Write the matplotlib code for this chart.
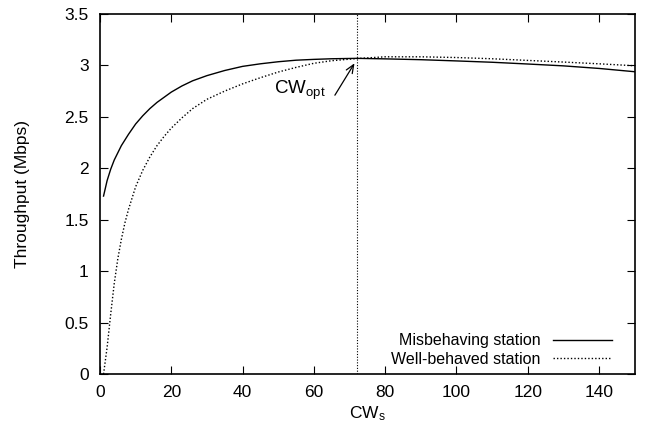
import matplotlib
matplotlib.use("Agg")
import matplotlib.pyplot as plt

plt.rcParams['font.family'] = ['Liberation Sans', 'DejaVu Sans']
plt.rcParams['mathtext.fontset'] = 'custom'
plt.rcParams['mathtext.rm'] = 'Liberation Sans'
plt.rcParams['mathtext.it'] = 'Liberation Sans'

# Misbehaving station throughput vs CW_s
mis_x = [1, 2, 3, 4, 5, 6, 8, 10, 12, 14, 16, 18, 20, 23, 26, 30, 35, 40, 45, 50, 55, 60, 65, 72,
         80, 90, 100, 110, 120, 130, 140, 150]
mis_y = [1.73, 1.88, 1.99, 2.08, 2.15, 2.22, 2.33, 2.43, 2.51, 2.58, 2.64, 2.69, 2.74, 2.80, 2.85,
         2.90, 2.95, 2.99, 3.015, 3.035, 3.05, 3.058, 3.064, 3.068,
         3.063, 3.055, 3.043, 3.030, 3.013, 2.995, 2.970, 2.938]

# Well-behaved station throughput vs CW_s
well_x = [1, 1.5, 2, 3, 4, 5, 6, 7, 8, 10, 12, 14, 16, 18, 20, 23, 26, 30, 35, 40, 45, 50, 55, 60,
          65, 72, 80, 90, 100, 110, 120, 130, 140, 150]
well_y = [0.0, 0.13, 0.26, 0.58, 0.88, 1.12, 1.31, 1.47, 1.60, 1.82, 1.98, 2.11, 2.22, 2.31, 2.39,
          2.49, 2.58, 2.67, 2.75, 2.82, 2.88, 2.935, 2.98, 3.02,
          3.045, 3.066, 3.083, 3.083, 3.076, 3.064, 3.048, 3.032, 3.015, 2.996]

cw_opt = 72
xticks = [0, 20, 40, 60, 80, 100, 120, 140]
yticks = [0, 0.5, 1, 1.5, 2, 2.5, 3, 3.5]
ytick_labels = ['0', '0.5', '1', '1.5', '2', '2.5', '3', '3.5']

fig = plt.figure(figsize=(6.45, 4.34), dpi=100)
ax = fig.add_axes([0.155, 0.138, 0.829, 0.830])

ax.plot(mis_x, mis_y, color='black', lw=1.0, label='Misbehaving station')
ax.plot(well_x, well_y, color='black', lw=1.0, linestyle=(0, (1, 1.5)), label='Well-behaved station')
ax.axvline(cw_opt, color='black', lw=0.8, linestyle=(0, (1, 1.5)))

ax.text(56, 2.76, 'CW$_{\\mathregular{opt}}$', ha='center', va='center', fontsize=13.5)
ax.annotate('', xy=(71.4, 3.02), xytext=(65.9, 2.71),
            arrowprops=dict(arrowstyle='->,head_length=0.6,head_width=0.25', color='black', lw=0.9,
                            shrinkA=0, shrinkB=0))

ax.set_xlim(0, 150)
ax.set_ylim(0, 3.5)
ax.set_xticks(xticks)
ax.set_yticks(yticks)
ax.set_yticklabels(ytick_labels)
ax.tick_params(direction='in', length=6, width=0.8, top=True, right=True,
               labelsize=12.5, pad=8)
for s in ax.spines.values():
    s.set_linewidth(1.2)

ax.set_xlabel('CW$_{\\mathregular{s}}$', fontsize=12.5, labelpad=3)
ax.set_ylabel('Throughput (Mbps)', fontsize=12.5, labelpad=25)

leg = ax.legend(loc='lower right', bbox_to_anchor=(0.958, 0.02), frameon=False, markerfirst=False,
                fontsize=11.5, handlelength=3.7, handletextpad=0.8,
                labelspacing=0.22, borderaxespad=0, borderpad=0)
for t in leg.get_texts():
    t.set_ha('right')

fig.savefig('out.png', dpi=100)
